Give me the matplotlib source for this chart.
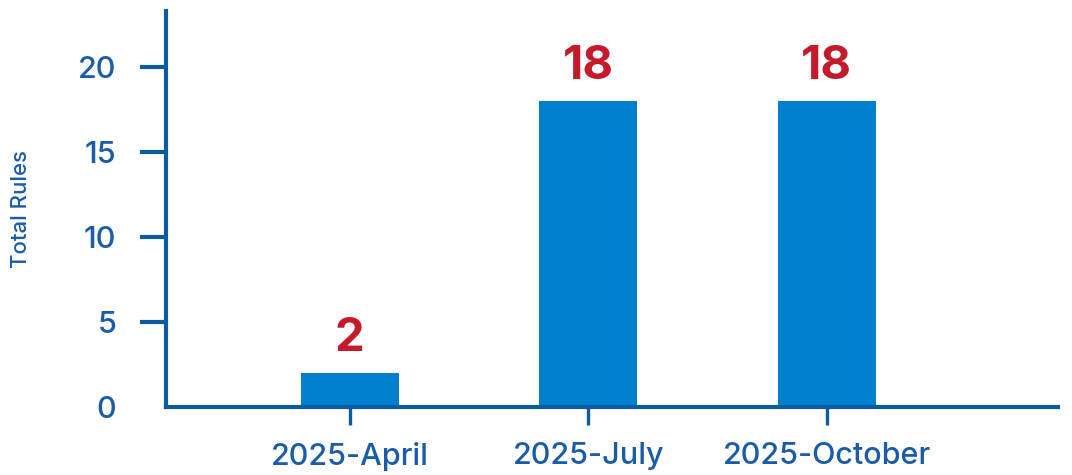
import matplotlib.pyplot as plt

# quarterly rule counts
quarters = ['2025-April', '2025-July', '2025-October']
total_rules = [2, 18, 18]
y_ticks = [0, 5, 10, 15, 20]

AXIS_BLUE = '#0b5aa2'
BAR_BLUE = '#0080cc'
LABEL_RED = '#c41a2b'

plt.rcParams['font.family'] = ['Inter', 'DejaVu Sans']

fig = plt.figure(figsize=(10.72, 4.75), dpi=100)
ax = fig.add_axes([0.155, 0.143, 0.832, 0.834])

xpos = list(range(len(quarters)))
bars = ax.bar(xpos, total_rules, width=0.41, color=BAR_BLUE, zorder=2)

# value labels above each bar
for rect, val in zip(bars, total_rules):
    ax.annotate(str(val), (rect.get_x() + rect.get_width() / 2, rect.get_height()),
                xytext=(0, 9), textcoords='offset points',
                ha='center', va='bottom', fontsize=34, fontweight='bold',
                color=LABEL_RED)

ax.set_xlim(-0.77, 2.97)
ax.set_ylim(0, 23.3)

ax.set_xticks(xpos)
ax.set_xticklabels(quarters, fontweight='medium')
ax.set_yticks(y_ticks)
for lbl in ax.get_yticklabels():
    lbl.set_fontweight('medium')

for side in ['top', 'right']:
    ax.spines[side].set_visible(False)
for side in ['left', 'bottom']:
    ax.spines[side].set_color(AXIS_BLUE)
    ax.spines[side].set_linewidth(3)
    ax.spines[side].set_zorder(3)

ax.tick_params(axis='y', length=19, width=3, pad=17, colors=AXIS_BLUE,
               labelsize=22, labelcolor='#1a5ca8')
ax.tick_params(axis='x', length=13, width=2.4, pad=12, colors=AXIS_BLUE,
               labelsize=22, labelcolor='#1a5ca8')
# the zero tick sits on the x axis line, so only its label shows
ax.yaxis.get_major_ticks()[0].tick1line.set_visible(False)

ax.set_ylabel('Total Rules', fontsize=16, color='#1a5ca8', fontweight='medium')
ax.yaxis.set_label_coords(-0.152, 0.5)

fig.savefig('out.png', dpi=100)
